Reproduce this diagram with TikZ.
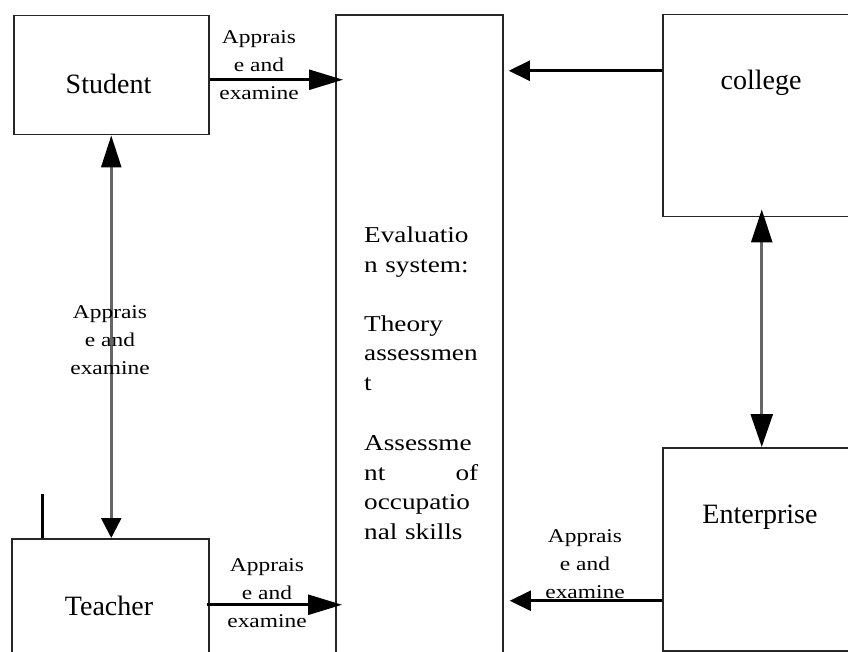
\documentclass[tikz,border=0pt]{standalone}
\usepackage{fontspec}
\setmainfont{Liberation Serif}
\newfontfamily\widefont{Liberation Serif}[FakeStretch=1.2]
\usetikzlibrary{arrows.meta,calc}

\tikzset{
  blk/.style={draw=black!85,line width=1.5pt,inner sep=0pt,anchor=north west},
  boxtext/.style={font=\fontsize{28}{32}\selectfont,inner sep=0pt,anchor=base},
  arrtext/.style={font=\widefont\fontsize{19.5}{28}\selectfont,align=center,inner sep=0pt,anchor=base},
  flowr/.style={line width=2.6pt,-{Triangle[length=34pt,width=20pt]}},
  flowl/.style={line width=2.6pt,-{Triangle[length=21pt,width=20pt]}},
  twoway/.style={draw=black!60,line width=2.6pt},
}

\begin{document}
\begin{tikzpicture}[x=1pt,y=1pt,yscale=-1]
\useasboundingbox (0,0) rectangle (848,652);
\clip (0,0) rectangle (848,652);

%Shape: boxes
\node[blk,minimum width=195pt,minimum height=119pt] (student) at (13,15) {};
\node[blk,minimum width=197pt,minimum height=160pt] (teacher) at (11,538) {};
\node[blk,minimum width=167pt,minimum height=700pt,line width=1.8pt] (eval) at (335,14) {};
\node[blk,minimum width=198pt,minimum height=202pt] (college) at (662,14) {};
\node[blk,minimum width=198pt,minimum height=203pt] (enterprise) at (662,447) {};

% Text Node
\node[boxtext] (studentT) at (108.5,94) {Student};
\node[boxtext] (teacherT) at (109,615) {Teacher};
\node[boxtext] (collegeT) at (761,90) {college};
\node[boxtext] (enterpriseT) at (760,523) {Enterprise};

% Text Node
\node[font=\widefont\fontsize{22.7}{29.5}\selectfont,text width=114pt,align=left,
      inner sep=0pt,anchor=base west] (evalT) at (364,243)
  {Evaluatio\\n system:\\[29.5pt]Theory\\assessmen\\t\\[31pt]Assessme\\nt\hfill of\\occupatio\\nal skills};

%Straight Lines
\draw[flowr] ($(student.east)+(0,4.5)$) coordinate (s1) -- ($(s1 -| eval.west)+(8,0)$);
\draw[flowr] ($(teacher.east)+(-3,-14)$) coordinate (t1) -- ($(t1 -| eval.west)+(7,0)$);
\draw[flowl] ($(college.west)+(0,-45)$) coordinate (c1) -- ($(c1 -| eval.east)+(5,0)$);
\draw[flowl] ($(enterprise.west)+(0,51.5)$) coordinate (e1) -- ($(e1 -| eval.east)+(6,0)$);

%Straight Lines: two way
\draw[twoway,{Triangle[length=32pt,width=20pt,color=black]}-{Triangle[length=20pt,width=20pt,color=black]}]
  (student.south) -- (student.south |- teacher.north);
\draw[twoway,{Triangle[length=33pt,width=21pt,color=black]}-{Triangle[length=33pt,width=22pt,color=black]}]
  ($(college.south)+(0,-8)$) -- (enterprise.north);

%Straight Lines: tick
\draw[line width=3pt] ($(teacher.north west)+(31,0)$) -- ++(0,-44);

% Text Node (base = last line)
\node[arrtext] (lblSE) at (259,100) {Apprais\\e and\\examine};
\node[arrtext] (lblST) at (110,374) {Apprais\\e and\\examine};
\node[arrtext] (lblTE) at (267,627) {Apprais\\e and\\examine};
\node[arrtext] (lblEE) at (585,598) {Apprais\\e and\\examine};
\end{tikzpicture}
\end{document}
